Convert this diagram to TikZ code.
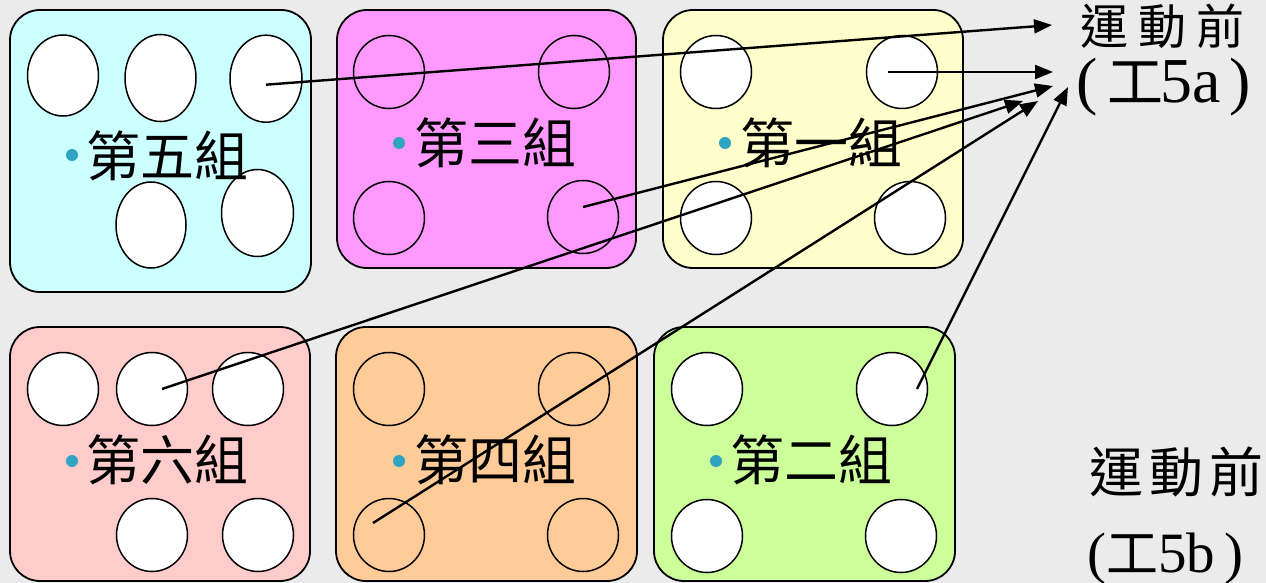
\documentclass[tikz,border=0pt]{standalone}
\usepackage{fontspec}
\newfontfamily\cjk{Noto Sans CJK TC}
\newfontfamily\serif{Liberation Serif}
\usetikzlibrary{shapes.geometric,arrows.meta}
\definecolor{bgc}{HTML}{ECEBEC}
\definecolor{cyanbg}{HTML}{CCFFFF}
\definecolor{magbg}{HTML}{FF99FF}
\definecolor{yelbg}{HTML}{FFFFCC}
\definecolor{pinkbg}{HTML}{FFCCCC}
\definecolor{orabg}{HTML}{FFCC99}
\definecolor{grnbg}{HTML}{CCFF99}
\definecolor{dotc}{HTML}{2EA3C2}
\newcommand\grpfont{\cjk\fontsize{54}{60}\selectfont}
\begin{document}
\begin{tikzpicture}[x=1pt,y=-1pt,
  grpbox/.style={draw=black, line width=1.8pt, rounded corners=30pt, inner sep=0pt},
  hole/.style={ellipse, draw=black, line width=1.5pt, inner sep=0pt, minimum width=71pt, minimum height=73pt},
  wcirc/.style={hole, fill=white},
  grplabel/.style={font=\grpfont, anchor=west, inner sep=0pt},
  dotb/.style={circle, fill=dotc, inner sep=0pt, minimum size=12pt},
  conn/.style={line width=2.4pt, -{Triangle[length=18pt,width=14pt]}},
  rlabel/.style={inner sep=0pt}
]
\useasboundingbox (0,0) rectangle (1266,583);
\fill[bgc] (0,0) rectangle (1266,583);

% group boxes
\node[grpbox, fill=cyanbg, minimum width=301pt, minimum height=282pt] (b5) at (160.5,151) {};
\node[grpbox, fill=magbg, minimum width=299pt, minimum height=258pt] (b3) at (486.5,139) {};
\node[grpbox, fill=yelbg, minimum width=300pt, minimum height=258pt] (b1) at (813,139) {};
\node[grpbox, fill=pinkbg, minimum width=300pt, minimum height=254pt] (b6) at (160,454) {};
\node[grpbox, fill=orabg, minimum width=301pt, minimum height=254pt] (b4) at (486.5,454) {};
\node[grpbox, fill=grnbg, minimum width=301pt, minimum height=254pt] (b2) at (804.5,454) {};

% group 5
\node[wcirc, minimum width=71pt, minimum height=81pt] (e51) at (63,75.5) {};
\node[wcirc, minimum width=71pt, minimum height=87pt] (e52) at (160.5,78) {};
\node[wcirc, minimum width=72pt, minimum height=87pt] (e53) at (266,78.7) {};
\node[wcirc, minimum width=70pt, minimum height=86pt] (e54) at (151,225) {};
\node[wcirc, minimum width=72pt, minimum height=87pt] (e55) at (257.5,213) {};
\node[dotb] (d5) at (72,155) {};
\node[grplabel] (l5) at (86,156) {第五組};

% group 3
\node[hole] (e31) at (389,72) {};
\node[hole] (e32) at (574,72) {};
\node[hole] (e33) at (389,218) {};
\node[hole] (e34) at (583,217) {};
\node[dotb] (d3) at (399,143) {};
\node[grplabel] (l3) at (414,143) {第三組};

% group 1
\node[wcirc] (e11) at (716,72) {};
\node[wcirc] (e12) at (902,72) {};
\node[wcirc] (e13) at (716,218) {};
\node[wcirc] (e14) at (910,218) {};
\node[dotb] (d1) at (725,143) {};
\node[grplabel] (l1) at (740,143) {第一組};

% group 6
\node[wcirc] (e61) at (63,389) {};
\node[wcirc] (e62) at (152,389) {};
\node[wcirc] (e63) at (248,389) {};
\node[wcirc] (e64) at (152,535) {};
\node[wcirc] (e65) at (258,535) {};
\node[dotb] (d6) at (72,461) {};
\node[grplabel] (l6) at (86,460) {第六組};

% group 4
\node[hole] (e41) at (389,389) {};
\node[hole] (e42) at (574,389) {};
\node[hole] (e43) at (389,535) {};
\node[hole] (e44) at (583,535) {};
\node[dotb] (d4) at (399,461) {};
\node[grplabel] (l4) at (414,460) {第四組};

% group 2
\node[wcirc] (e21) at (707,389) {};
\node[wcirc] (e22) at (892,389) {};
\node[wcirc] (e23) at (707,536) {};
\node[wcirc] (e24) at (901,536) {};
\node[dotb] (d2) at (716,461) {};
\node[grplabel] (l2) at (730,460) {第二組};

% right labels
\node[rlabel, anchor=west, font=\cjk\fontsize{48}{52}\selectfont] (ra1) at (1080,26) {運\hspace{10pt}動\hspace{10pt}前};
\node[rlabel, anchor=base west] (ra2) at (1076,103)
  {{\serif\fontsize{64}{70}\selectfont (}\hspace{10pt}{\cjk\fontsize{56}{60}\selectfont 工}\hspace{-3pt}{\serif\fontsize{64}{70}\selectfont 5a}\hspace{9pt}{\serif\fontsize{64}{70}\selectfont )}};
\node[rlabel, anchor=west, font=\cjk\fontsize{54}{60}\selectfont] (rb1) at (1089,472) {運\hspace{6pt}動\hspace{6pt}前};
\node[rlabel, anchor=base west] (rb2) at (1087,572)
  {{\serif\fontsize{57}{62}\selectfont (}\hspace{0pt}{\cjk\fontsize{52}{56}\selectfont 工}\hspace{0pt}{\serif\fontsize{57}{62}\selectfont 5b}\hspace{9pt}{\serif\fontsize{57}{62}\selectfont )}};

% arrow tips
\coordinate (t1) at (1052,25);
\coordinate (t2) at (1053,72);
\coordinate (t3) at (1053,86);
\coordinate (t4) at (1023,101);
\coordinate (t5) at (1038,101);
\coordinate (t6) at (1068,87);

% connectors
\draw[conn] ([yshift=-6pt]e53.center) -- (t1);
\draw[conn] ([xshift=-14pt]e12.center) -- (t2);
\draw[conn] ([yshift=10pt]e34.center) -- (t3);
\draw[conn] ([xshift=10pt]e62.center) -- (t4);
\draw[conn] ([xshift=-16pt,yshift=12pt]e43.center) -- (t5);
\draw[conn] ([xshift=25pt]e22.center) -- (t6);
\end{tikzpicture}
\end{document}
